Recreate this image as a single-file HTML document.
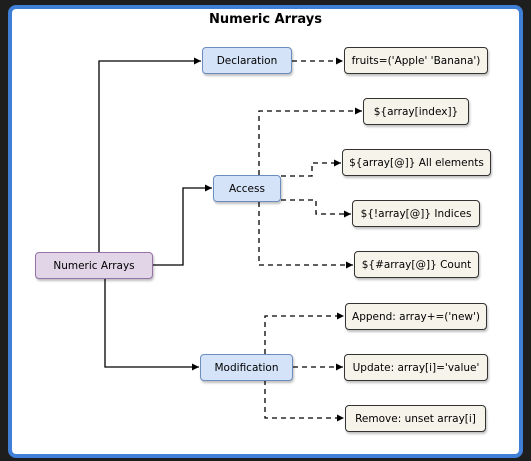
<!DOCTYPE html>
<html><head><style>
body{margin:0;background:#1e1e1e;width:531px;height:461px;overflow:hidden;font-family:"DejaVu Sans","Liberation Sans",sans-serif}
.frame{position:absolute;left:8px;top:5px;width:507px;height:445px;border:4px solid #3f7fd8;border-radius:8px;background:#fff}
.n{position:absolute;box-sizing:border-box;border-radius:4px;font-size:10.5px;display:flex;align-items:center;justify-content:center;box-shadow:1px 2px 2px rgba(0,0,0,.25);white-space:nowrap}
.b{background:#d4e3f8;border:1.3px solid #6c8ebf}
.p{background:#e1d5e7;border:1.3px solid #9673a6}
.y{background:#f6f4ea;border:1.3px solid #333}
</style></head><body>
<div class="frame"></div>
<div style="position:absolute;left:0;width:531px;top:12px;text-align:center;font-weight:bold;font-size:13px;color:#000">Numeric Arrays</div>
<svg width="531" height="461" style="position:absolute;left:0;top:0">
<defs><marker id="a" markerWidth="8" markerHeight="8" refX="7" refY="4" orient="auto" markerUnits="userSpaceOnUse"><path d="M0,0.5L7,4L0,7.5z" fill="#000"/></marker></defs>
<g fill="none" stroke="#000" stroke-width="1.3">
<path d="M99,252V61H201" marker-end="url(#a)"/>
<path d="M153,265H183V188H212" marker-end="url(#a)"/>
<path d="M105,278V367H199" marker-end="url(#a)"/>
<g stroke-dasharray="5,4">
<path d="M292,61H343" marker-end="url(#a)"/>
<path d="M259,175V111H362" marker-end="url(#a)"/>
<path d="M281,176H312V163H341" marker-end="url(#a)"/>
<path d="M281,200H316V214H351" marker-end="url(#a)"/>
<path d="M259,202V265H353" marker-end="url(#a)"/>
<path d="M265,354V316H344" marker-end="url(#a)"/>
<path d="M293,367H343" marker-end="url(#a)"/>
<path d="M265,380V418H344" marker-end="url(#a)"/>
</g></g></svg>
<div class="n b" style="left:202px;top:47px;width:90px;height:27px">Declaration</div>
<div class="n y" style="left:344px;top:47px;width:144px;height:27px">fruits=('Apple' 'Banana')</div>
<div class="n y" style="left:363px;top:98px;width:106px;height:27px">${array[index]}</div>
<div class="n y" style="left:342px;top:149px;width:149px;height:27px">${array[@]} All elements</div>
<div class="n b" style="left:213px;top:175px;width:68px;height:27px">Access</div>
<div class="n y" style="left:352px;top:200px;width:128px;height:27px">${!array[@]} Indices</div>
<div class="n p" style="left:35px;top:252px;width:118px;height:27px">Numeric Arrays</div>
<div class="n y" style="left:354px;top:251px;width:125px;height:27px">${#array[@]} Count</div>
<div class="n y" style="left:345px;top:303px;width:142px;height:27px">Append: array+=('new')</div>
<div class="n b" style="left:200px;top:354px;width:93px;height:27px">Modification</div>
<div class="n y" style="left:344px;top:354px;width:144px;height:27px">Update: array[i]='value'</div>
<div class="n y" style="left:345px;top:405px;width:141px;height:27px">Remove: unset array[i]</div>
</body></html>
